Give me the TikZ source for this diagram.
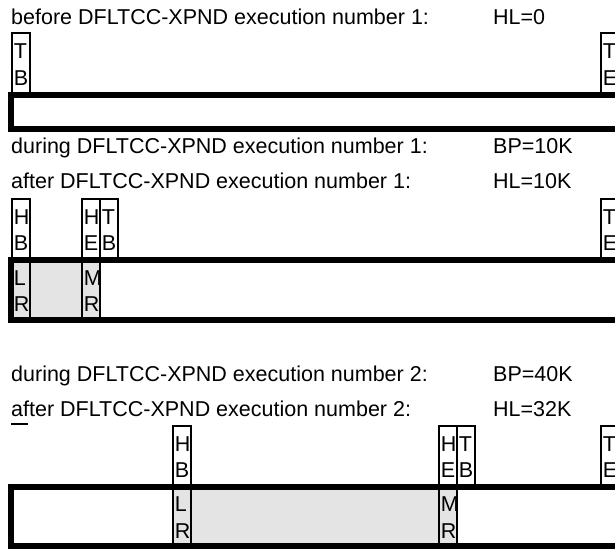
\documentclass[tikz,border=0pt]{standalone}
\usepackage{fontspec}
\setmainfont{Liberation Sans}
\definecolor{cellgray}{RGB}{228,228,228}
\begin{document}
\begin{tikzpicture}[x=1pt,y=-1pt,
  lbl/.style={anchor=base west,inner sep=0pt,font=\fontsize{21.5}{25}\selectfont},
  cell/.style={draw,line width=1.8pt,anchor=north west,inner xsep=2pt,inner ysep=0pt,
    text width=14pt,align=left,font=\fontsize{21.5}{26.5}\selectfont},
  bar/.style={line width=6pt,line join=miter}]
\useasboundingbox (0,0) rectangle (615,550);
\clip (0,0) rectangle (615,550);

% section 1
\node[lbl] (t1) at (11,24) {before DFLTCC-XPND execution number 1:};
\node[lbl] (v1) at (493,24) {HL=0};
\node[cell,minimum height=63pt] (tb1) at (11,32) {T\\B};
\node[cell,minimum height=63pt] (te1) at (600,32) {T\\E};
\draw[bar] (630,95) -- (11,95) -- (11,129) -- (630,129);

% section 2
\node[lbl] (t2) at (11,153) {during DFLTCC-XPND execution number 1:};
\node[lbl] (v2) at (493,153) {BP=10K};
\node[lbl] (t3) at (11,188) {after DFLTCC-XPND execution number 1:};
\node[lbl] (v3) at (493,188) {HL=10K};
\fill[cellgray] (11,260) rectangle (99,320);
\node[cell,minimum height=60pt,fill=cellgray] (lr2) at (11,260) {L\\R};
\node[cell,minimum height=60pt,fill=cellgray] (mr2) at (81,260) {M\\R};
\node[cell,minimum height=62pt] (hb2) at (11,198) {H\\B};
\node[cell,minimum height=62pt] (he2) at (81,198) {H\\E};
\node[cell,minimum height=62pt] (tb2) at (99,198) {T\\B};
\node[cell,minimum height=62pt] (te2) at (600,198) {T\\E};
\draw[bar] (630,260) -- (11,260) -- (11,320) -- (630,320);

% section 3
\node[lbl] (t4) at (11,381) {during DFLTCC-XPND execution number 2:};
\node[lbl] (v4) at (493,381) {BP=40K};
\node[lbl] (t5) at (11,416) {after DFLTCC-XPND execution number 2:};
\node[lbl] (v5) at (493,416) {HL=32K};
\coordinate (u1) at (11,424);
\coordinate (u2) at (28,424);
\draw[line width=1.5pt] (u1) -- (u2);
\fill[cellgray] (172,487) rectangle (456,546);
\node[cell,minimum height=59pt,fill=cellgray] (lr3) at (172,487) {L\\R};
\node[cell,minimum height=59pt,fill=cellgray] (mr3) at (438,487) {M\\R};
\node[cell,minimum height=62pt] (hb3) at (172,425) {H\\B};
\node[cell,minimum height=62pt] (he3) at (438,425) {H\\E};
\node[cell,minimum height=62pt] (tb3) at (456,425) {T\\B};
\node[cell,minimum height=62pt] (te3) at (600,425) {T\\E};
\draw[bar] (630,487) -- (11,487) -- (11,546) -- (630,546);
\end{tikzpicture}
\end{document}
